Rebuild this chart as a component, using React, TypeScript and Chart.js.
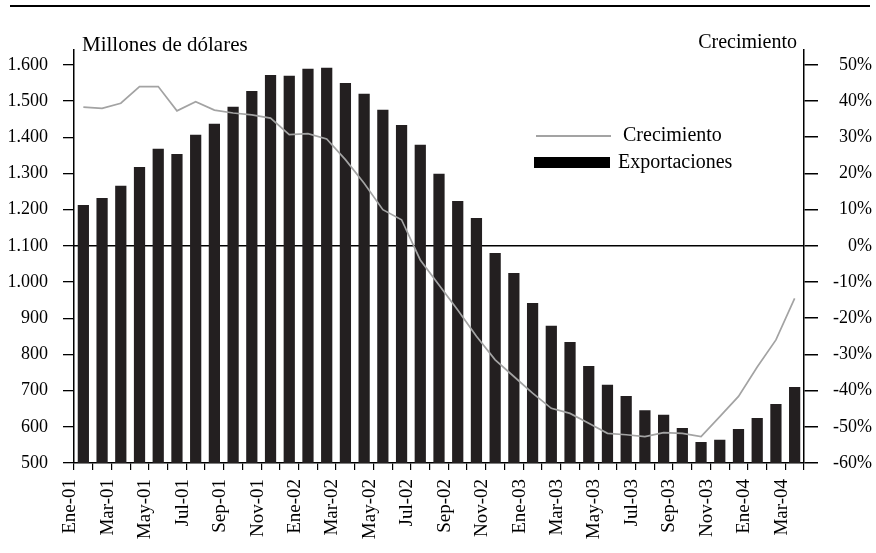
import React, { useEffect, useRef } from "react";
import { Chart, registerables } from "chart.js";

Chart.register(...registerables);

const months = [
  "Ene-01", "Feb-01", "Mar-01", "Abr-01", "May-01", "Jun-01", "Jul-01", "Ago-01", "Sep-01", "Oct-01", "Nov-01", "Dic-01",
  "Ene-02", "Feb-02", "Mar-02", "Abr-02", "May-02", "Jun-02", "Jul-02", "Ago-02", "Sep-02", "Oct-02", "Nov-02", "Dic-02",
  "Ene-03", "Feb-03", "Mar-03", "Abr-03", "May-03", "Jun-03", "Jul-03", "Ago-03", "Sep-03", "Oct-03", "Nov-03", "Dic-03",
  "Ene-04", "Feb-04", "Mar-04",
];

const exportaciones = [
  1213, 1232, 1266, 1318, 1368, 1354, 1407, 1437, 1484, 1528, 1572, 1570,
  1589, 1592, 1550, 1520, 1476, 1434, 1379, 1299, 1224, 1177, 1080, 1025,
  942, 879, 834, 768, 716, 685, 646, 633, 597, 558, 564, 594,
  624, 663, 710,
];

const crecimiento = [
  38.3, 38.0, 39.4, 44.0, 44.0, 37.3, 39.8, 37.5, 36.7, 36.2, 35.3, 30.7,
  31.0, 29.5, 23.8, 17.3, 10.0, 7.2, -3.9, -10.8, -17.7, -25.0, -31.5, -36.1,
  -40.7, -44.9, -46.3, -49.0, -51.8, -52.2, -52.7, -51.6, -51.8, -52.7, -47.2, -41.6,
  -33.5, -26.0, -14.5,
];

const leftTickValues = [500, 600, 700, 800, 900, 1000, 1100, 1200, 1300, 1400, 1500, 1600];
const leftTickLabels = ["500", "600", "700", "800", "900", "1.000", "1.100", "1.200", "1.300", "1.400", "1.500", "1.600"];
const rightTickValues = [-60, -50, -40, -30, -20, -10, 0, 10, 20, 30, 40, 50];
const rightTickLabels = ["-60%", "-50%", "-40%", "-30%", "-20%", "-10%", "0%", "10%", "20%", "30%", "40%", "50%"];

const FONT_FAMILY = '"Liberation Serif", "DejaVu Serif", serif';

export default function App() {
  const canvasRef = useRef<HTMLCanvasElement | null>(null);

  useEffect(() => {
    const canvas = canvasRef.current;
    if (!canvas) return;
    const font = { family: FONT_FAMILY, size: 18 };
    const chart = new Chart(canvas, {
      type: "bar",
      data: {
        labels: months,
        datasets: [
          {
            type: "line",
            label: "Crecimiento",
            data: crecimiento,
            yAxisID: "y2",
            borderColor: "#a3a3a3",
            borderWidth: 1.7,
            pointRadius: 0,
            tension: 0,
            order: 0,
          } as any,
          {
            type: "bar",
            label: "Exportaciones",
            data: exportaciones,
            yAxisID: "y",
            backgroundColor: "#231f20",
            barPercentage: 0.6,
            categoryPercentage: 1,
            order: 1,
          },
        ],
      },
      options: {
        animation: false,
        responsive: false,
        maintainAspectRatio: false,
        layout: { padding: { top: 50, right: 4, left: 0, bottom: 0 } },
        plugins: { legend: { display: false }, tooltip: { enabled: false } },
        scales: {
          x: {
            grid: { offset: true, drawOnChartArea: false, tickLength: 7, color: "#000", lineWidth: 1.2 },
            border: { color: "#000", width: 1.5 },
            ticks: {
              autoSkip: false,
              maxRotation: 90,
              minRotation: 90,
              padding: 9,
              labelOffset: -13,
              color: "#000",
              font: { family: FONT_FAMILY, size: 19 },
              callback: (_v: any, i: number) => (i % 2 === 0 ? months[i] : ""),
            },
            afterFit: (s: any) => {
              s.height = 90;
            },
          },
          y: {
            position: "left",
            min: 500,
            max: 1641,
            afterBuildTicks: (s: any) => {
              s.ticks = leftTickValues.map((v) => ({ value: v }));
            },
            grid: { drawOnChartArea: false, tickLength: 11, color: "#000", lineWidth: 1.3 },
            border: { color: "#000", width: 1.5 },
            ticks: {
              padding: 15,
              color: "#000",
              font,
              callback: (v: any) => {
                const i = leftTickValues.indexOf(Number(v));
                return i >= 0 ? leftTickLabels[i] : "";
              },
            },
            afterFit: (s: any) => {
              s.width = 74;
            },
          },
          y2: {
            position: "right",
            min: -60,
            max: 54.1,
            afterBuildTicks: (s: any) => {
              s.ticks = rightTickValues.map((v) => ({ value: v }));
            },
            grid: {
              drawOnChartArea: true,
              color: (c: any) => (c.tick && c.tick.value === 0 ? "#000" : "rgba(0,0,0,0)"),
              tickColor: "#000",
              tickLength: 14,
              lineWidth: 1.5,
            },
            border: { color: "#000", width: 1.5 },
            ticks: {
              crossAlign: "far",
              padding: 8,
              color: "#000",
              font,
              callback: (v: any) => {
                const i = rightTickValues.indexOf(Number(v));
                return i >= 0 ? rightTickLabels[i] : "";
              },
            },
            afterFit: (s: any) => {
              s.width = 68;
            },
          },
        },
      } as any,
    });
    return () => chart.destroy();
  }, []);

  const textStyle: React.CSSProperties = {
    position: "absolute",
    fontFamily: FONT_FAMILY,
    fontSize: 20,
    lineHeight: "20px",
    color: "#000",
    whiteSpace: "nowrap",
  };

  return (
    <div style={{ position: "absolute", left: 0, top: 0, width: 876, height: 553, background: "#fff" }}>
      <canvas ref={canvasRef} width={876} height={553} style={{ position: "absolute", left: 0, top: 0, width: 876, height: 553 }} />
      <div style={{ position: "absolute", left: 10, top: 5, width: 860, height: 1.5, background: "#000" }} />
      <div style={{ ...textStyle, fontSize: 21, lineHeight: "21px", left: 82, top: 34 }}>Millones de dólares</div>
      <div style={{ ...textStyle, right: 79, top: 31, textAlign: "right" }}>Crecimiento</div>
      <div style={{ position: "absolute", left: 536, top: 135, width: 75, height: 2, background: "#a3a3a3" }} />
      <div style={{ ...textStyle, left: 623, top: 124 }}>Crecimiento</div>
      <div style={{ position: "absolute", left: 534, top: 157, width: 76, height: 11, background: "#000" }} />
      <div style={{ ...textStyle, left: 618, top: 151 }}>Exportaciones</div>
    </div>
  );
}
